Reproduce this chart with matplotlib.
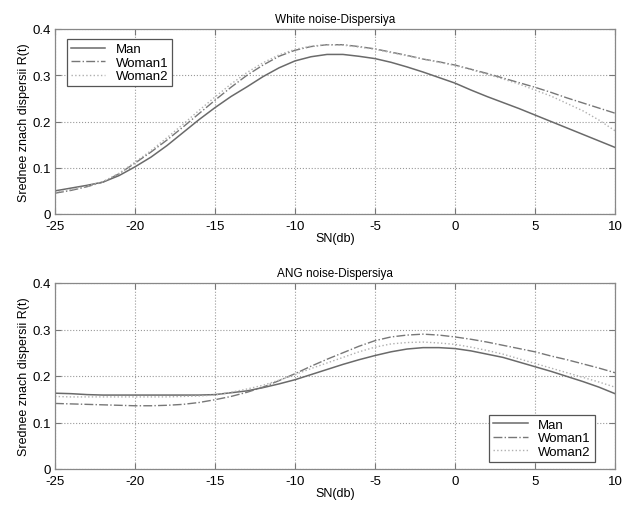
import numpy as np
import matplotlib
matplotlib.use("Agg")
import matplotlib.pyplot as plt

plt.rcParams['font.family'] = ['Liberation Sans', 'DejaVu Sans']
plt.rcParams['axes.unicode_minus'] = False

# SN (db) values
sn = list(range(-25, 11))

# White noise
white_man = [0.050, 0.056, 0.062, 0.069, 0.083, 0.102, 0.123, 0.148, 0.176, 0.204,
             0.230, 0.254, 0.275, 0.297, 0.316, 0.331, 0.340, 0.345, 0.345, 0.341,
             0.336, 0.328, 0.318, 0.307, 0.295, 0.283, 0.268, 0.254, 0.241, 0.228,
             0.214, 0.200, 0.186, 0.172, 0.158, 0.144]
white_woman1 = [0.045, 0.051, 0.059, 0.069, 0.087, 0.110, 0.134, 0.160, 0.188, 0.217,
                0.246, 0.274, 0.300, 0.322, 0.341, 0.354, 0.362, 0.366, 0.366, 0.362,
                0.357, 0.350, 0.343, 0.335, 0.329, 0.322, 0.313, 0.304, 0.294, 0.284,
                0.274, 0.263, 0.251, 0.240, 0.229, 0.218]
white_woman2 = [0.047, 0.053, 0.060, 0.070, 0.088, 0.112, 0.137, 0.165, 0.194, 0.224,
                0.253, 0.281, 0.306, 0.327, 0.344, 0.356, 0.363, 0.366, 0.365, 0.361,
                0.356, 0.349, 0.342, 0.335, 0.328, 0.321, 0.312, 0.302, 0.292, 0.281,
                0.268, 0.255, 0.239, 0.223, 0.203, 0.180]

# ANG noise
ang_man = [0.163, 0.162, 0.160, 0.159, 0.159, 0.159, 0.159, 0.159, 0.159, 0.159,
           0.160, 0.164, 0.168, 0.175, 0.183, 0.192, 0.203, 0.214, 0.225, 0.235,
           0.244, 0.252, 0.258, 0.261, 0.261, 0.259, 0.254, 0.247, 0.240, 0.230,
           0.220, 0.210, 0.199, 0.188, 0.176, 0.162]
ang_woman1 = [0.141, 0.140, 0.139, 0.138, 0.137, 0.136, 0.136, 0.137, 0.139, 0.143,
              0.149, 0.156, 0.165, 0.176, 0.190, 0.205, 0.221, 0.236, 0.250, 0.264,
              0.276, 0.284, 0.288, 0.290, 0.288, 0.284, 0.279, 0.273, 0.266, 0.259,
              0.252, 0.243, 0.235, 0.226, 0.217, 0.207]
ang_woman2 = [0.156, 0.155, 0.155, 0.155, 0.155, 0.155, 0.155, 0.155, 0.156, 0.157,
              0.159, 0.165, 0.172, 0.180, 0.191, 0.203, 0.216, 0.228, 0.240, 0.252,
              0.262, 0.269, 0.272, 0.273, 0.271, 0.268, 0.262, 0.255, 0.247, 0.237,
              0.227, 0.217, 0.207, 0.197, 0.187, 0.176]

labels = ["Man", "Woman1", "Woman2"]
x_ticks = [-25, -20, -15, -10, -5, 0, 5, 10]
y_ticks = [0, 0.1, 0.2, 0.3, 0.4]
y_tick_labels = ["0", "0.1", "0.2", "0.3", "0.4"]

fig = plt.figure(figsize=(6.31, 5.06), dpi=100)
ax1 = fig.add_axes([55/631, (506-215)/506, 560/631, 185/506])
ax2 = fig.add_axes([55/631, (506-470)/506, 560/631, 186/506])


def draw_panel(ax, man, w1, w2, title, legend_loc, anchor):
    ax.plot(sn, man, '-', color='#6a6a6a', lw=1.1, label=labels[0])
    ax.plot(sn, w1, '-.', color='#777777', lw=1.0, label=labels[1])
    ax.plot(sn, w2, ':', color='#b0b0b0', lw=1.0, label=labels[2])
    ax.set_xlim(-25, 10)
    ax.set_ylim(0, 0.4)
    ax.set_xticks(x_ticks)
    ax.set_yticks(y_ticks)
    ax.set_yticklabels(y_tick_labels)
    ax.grid(True, linestyle=':', color='#999999', lw=0.8)
    ax.tick_params(direction='in', top=True, right=True, length=4,
                   labelsize=9.5, color='#777777')
    ax.tick_params(axis='x', pad=4)
    ax.tick_params(axis='y', pad=3)
    for s in ax.spines.values():
        s.set_color('#888888')
        s.set_linewidth(0.9)
    ax.set_title(title, fontsize=8.5, pad=5)
    ax.set_xlabel("SN(db)", fontsize=9, labelpad=0)
    ax.set_ylabel("Srednee znach dispersii R(t)", fontsize=9, labelpad=2)
    leg = ax.legend(loc=legend_loc, bbox_to_anchor=anchor, borderaxespad=0,
                    fontsize=9.5, fancybox=False, framealpha=1,
                    edgecolor='#555555', handlelength=2.6, borderpad=0.3,
                    labelspacing=0.1, handletextpad=0.8)
    leg.get_frame().set_linewidth(0.9)


draw_panel(ax1, white_man, white_woman1, white_woman2, "White noise-Dispersiya",
           'upper left', (0.021, 0.946))
draw_panel(ax2, ang_man, ang_woman1, ang_woman2, "ANG noise-Dispersiya",
           'lower right', (0.964, 0.038))

fig.savefig("out.png", dpi=100)
